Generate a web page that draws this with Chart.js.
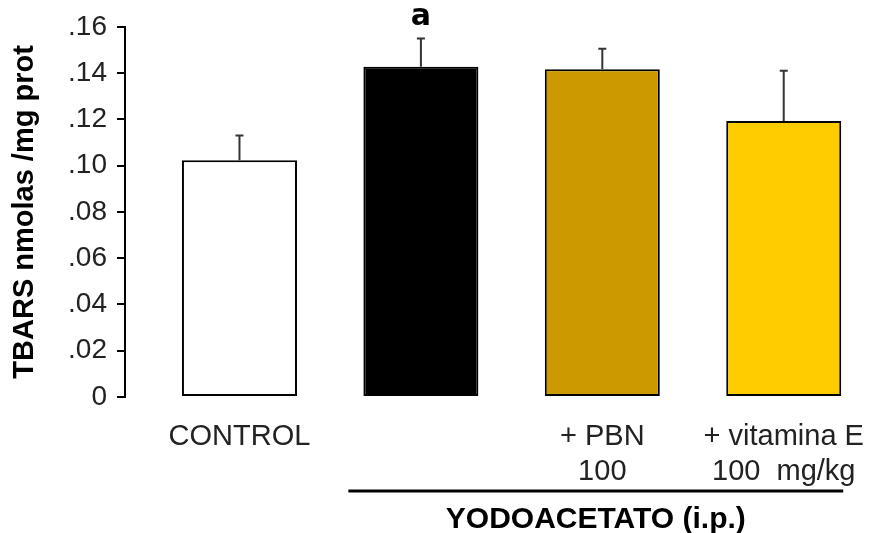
<!DOCTYPE html>
<html>
<head>
<meta charset="utf-8">
<script src="https://cdn.jsdelivr.net/npm/chart.js@4.4.1/dist/chart.umd.min.js"></script>
<style>
  html, body { margin: 0; padding: 0; background: #fff; }
  #box { width: 869px; height: 533px; }
</style>
</head>
<body>
<div id="box"><canvas id="myChart"></canvas></div>
<script>
// data
const groups = ["CONTROL", "YODOACETATO", "+ PBN 100", "+ vitamina E 100 mg/kg"];
const tickLabels = [["CONTROL"], [""], ["+ PBN", "100"], ["+ vitamina E", "100  mg/kg"]];
const means = [0.1023, 0.1427, 0.1416, 0.1193];
const sems = [0.0107, 0.0122, 0.0089, 0.0217];
const sigMarks = ["", "a", "", ""];
const yTickValues = [0, 0.02, 0.04, 0.06, 0.08, 0.10, 0.12, 0.14, 0.16];
const yTickLabels = ["0", ".02", ".04", ".06", ".08", ".10", ".12", ".14", ".16"];
const groupLabel = "YODOACETATO (i.p.)";
const yTitle = "TBARS nmolas /mg prot";

const barColors = ["#ffffff", "#000000", "#cc9900", "#ffcc00"];
const FONT = "'Liberation Sans', Arial, sans-serif";

const extras = {
  id: "extras",
  afterDatasetsDraw(chart) {
    const { ctx } = chart;
    const y = chart.scales.y;
    const bars = chart.getDatasetMeta(0).data;
    ctx.save();
    // error bars
    ctx.strokeStyle = "#333";
    ctx.lineWidth = 2;
    bars.forEach((el, i) => {
      const top = y.getPixelForValue(means[i] + sems[i]);
      ctx.beginPath();
      ctx.moveTo(el.x, el.y);
      ctx.lineTo(el.x, top);
      ctx.moveTo(el.x - 4, top);
      ctx.lineTo(el.x + 4, top);
      ctx.stroke();
      if (sigMarks[i]) {
        ctx.fillStyle = "#000";
        ctx.font = "bold 30px 'DejaVu Sans', sans-serif";
        ctx.textAlign = "center";
        ctx.textBaseline = "alphabetic";
        ctx.fillText(sigMarks[i], el.x, top - 14);
      }
    });
    // treatment group bracket
    const first = bars[1], last = bars[3];
    const x0 = first.x - first.width / 2 - 15;
    const x1 = last.x + last.width / 2 + 2;
    ctx.strokeStyle = "#000";
    ctx.lineWidth = 3;
    ctx.beginPath();
    ctx.moveTo(x0, 491);
    ctx.lineTo(x1, 491);
    ctx.stroke();
    ctx.fillStyle = "#000";
    ctx.font = "bold 30px " + FONT;
    ctx.textAlign = "center";
    ctx.textBaseline = "middle";
    ctx.fillText(groupLabel, (x0 + x1) / 2, 520);
    ctx.restore();
  }
};

new Chart(document.getElementById("myChart"), {
  type: "bar",
  data: {
    datasets: [{
      label: "TBARS",
      data: means.map((m, i) => ({ x: i, y: m })),
      backgroundColor: barColors,
      borderColor: "#000",
      borderWidth: 2,
      borderSkipped: false,
      categoryPercentage: 1,
      barPercentage: 0.634
    }]
  },
  options: {
    responsive: true,
    maintainAspectRatio: false,
    animation: false,
    layout: { padding: { top: 24, right: 0, bottom: 0, left: 0 } },
    plugins: { legend: { display: false }, tooltip: { enabled: false } },
    scales: {
      x: {
        type: "linear",
        offset: false,
        min: -0.631,
        max: 3.47,
        afterBuildTicks: (s) => { s.ticks = groups.map((g, i) => ({ value: i })); },
        afterFit: (s) => { s.height = 136; s.paddingLeft = 0; s.paddingRight = 0; },
        grid: { display: false },
        border: { display: false },
        ticks: {
          autoSkip: false,
          maxRotation: 0,
          padding: 15,
          color: "#222",
          font: { family: FONT, size: 29, lineHeight: 1.2 },
          callback: (v) => tickLabels[v]
        }
      },
      y: {
        min: 0,
        max: 0.16,
        afterBuildTicks: (s) => { s.ticks = yTickValues.map(v => ({ value: v })); },
        afterFit: (s) => { s.width = 125; },
        grid: { drawOnChartArea: false, drawTicks: true, tickLength: 8, color: "#000", lineWidth: 2 },
        border: { display: true, color: "#000", width: 2 },
        ticks: {
          padding: 10,
          color: "#222",
          font: { family: FONT, size: 28 },
          callback: (v, i) => yTickLabels[i]
        },
        title: {
          display: true,
          text: yTitle,
          color: "#000",
          font: { family: FONT, size: 29, weight: "bold" },
          padding: { top: 8, bottom: 0 }
        }
      }
    }
  },
  plugins: [extras]
});
</script>
</body>
</html>
